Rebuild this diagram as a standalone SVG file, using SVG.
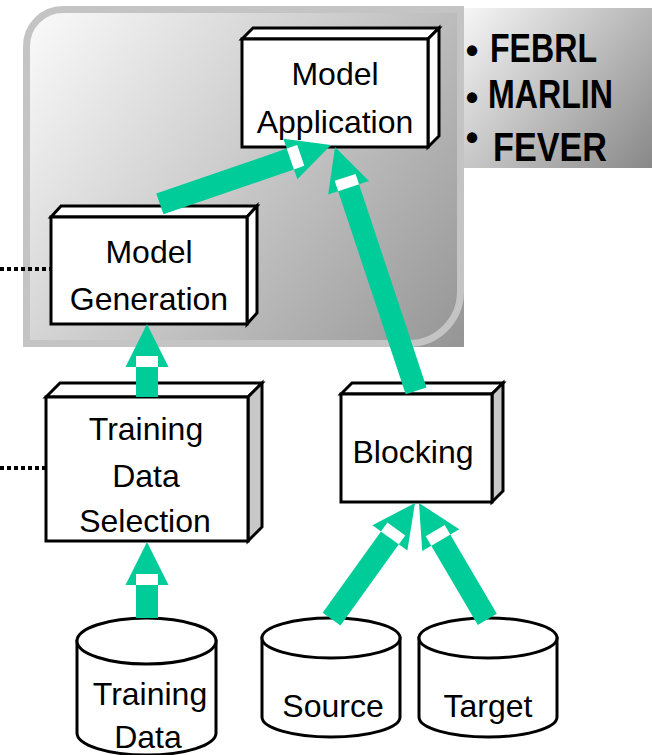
<svg xmlns="http://www.w3.org/2000/svg" width="652" height="755" viewBox="0 0 652 755">
  <defs>
    <linearGradient id="panelFill" gradientUnits="userSpaceOnUse" x1="23" y1="6" x2="464" y2="347">
      <stop offset="0" stop-color="#fcfcfc"/>
      <stop offset="1" stop-color="#959595"/>
    </linearGradient>
    <linearGradient id="toolFill" gradientUnits="userSpaceOnUse" x1="464" y1="8" x2="652" y2="168">
      <stop offset="0" stop-color="#f6f6f6"/>
      <stop offset="1" stop-color="#888888"/>
    </linearGradient>
    <style>
      .face { fill: #ffffff; stroke: #000000; stroke-width: 3; stroke-linejoin: miter; }
      .side { fill: #c8c8c8; stroke: #000000; stroke-width: 3; stroke-linejoin: miter; }
      .drum { fill: #ffffff; stroke: #000000; stroke-width: 3; }
      .label { font-family: "Liberation Sans", Arial, sans-serif; font-size: 32px; fill: #000000; text-anchor: middle; }
      .tool { font-family: "Liberation Sans", Arial, sans-serif; font-size: 40px; font-weight: bold; fill: #000000; }
      .bullet { font-family: "Liberation Sans", Arial, sans-serif; font-size: 36px; font-weight: bold; fill: #000000; text-anchor: middle; }
      .dots { stroke: #000000; stroke-width: 4; stroke-dasharray: 4 3; fill: none; }
      .flow { fill: #00cc99; }
      .gap { fill: #ffffff; }
    </style>
  </defs>

  <!-- learning area background -->
  <g id="learning-area">
    <path d="M23,46 A40,40 0 0 1 63,6 L461,6 Q464,6 464,9 L464,347 L26,347 Q23,347 23,344 Z" fill="url(#panelFill)"/>
    <path d="M26.5,46 A36.5,36.5 0 0 1 63,9.5 L460.5,9.5 L460.5,292 A52,52 0 0 1 408.5,343.5 L26.5,343.5 Z" fill="none" stroke="#c4c4c4" stroke-width="7"/>
  </g>

  <!-- tool list -->
  <g id="tools">
    <rect x="464" y="8" width="188" height="160" fill="url(#toolFill)"/>
    <text class="bullet" x="472" y="63">•</text>
    <text class="tool" x="490" y="62" textLength="107" lengthAdjust="spacingAndGlyphs">FEBRL</text>
    <text class="bullet" x="472" y="110">•</text>
    <text class="tool" x="488" y="108" textLength="125" lengthAdjust="spacingAndGlyphs">MARLIN</text>
    <text class="bullet" x="472" y="150">•</text>
    <text class="tool" x="493" y="161" textLength="114" lengthAdjust="spacingAndGlyphs">FEVER</text>
  </g>

  <!-- dotted side links -->
  <g id="side-links">
    <line class="dots" x1="0" y1="269" x2="51" y2="269"/>
    <line class="dots" x1="0" y1="468" x2="46" y2="468"/>
  </g>

  <g id="model-application">
    <polygon class="face" points="242,39 253,28 439,28 428,39"/>
    <polygon class="face" points="428,39 439,28 439,136 428,147"/>
    <rect class="face" x="242" y="39" width="186" height="108"/>
    <text class="label" x="335" y="85">Model</text>
    <text class="label" x="335" y="133">Application</text>
  </g>

  <g id="model-generation">
    <polygon class="face" points="51,217 61,206 257,206 247,217"/>
    <polygon class="face" points="247,217 257,206 257,313 247,324"/>
    <rect class="face" x="51" y="217" width="196" height="107"/>
    <text class="label" x="149" y="263">Model</text>
    <text class="label" x="149" y="310">Generation</text>
  </g>

  <g id="training-data-selection">
    <polygon class="face" points="46,397 60,383 262,383 248,397"/>
    <polygon class="side" points="248,397 262,383 262,527 248,541"/>
    <rect class="face" x="46" y="397" width="202" height="144"/>
    <text class="label" x="146" y="440">Training</text>
    <text class="label" x="146" y="487">Data</text>
    <text class="label" x="145" y="532">Selection</text>
  </g>

  <g id="blocking">
    <polygon class="face" points="341,394 352,383 503,383 492,394"/>
    <polygon class="side" points="492,394 503,383 503,491 492,502"/>
    <rect class="face" x="341" y="394" width="151" height="108"/>
    <text class="label" x="413" y="463">Blocking</text>
  </g>

  <g id="training-data">
    <path class="drum" d="M77,641 L77,733 A69.5,22 0 0 0 216,733 L216,641 Z"/>
    <ellipse class="drum" cx="146.5" cy="641" rx="69.5" ry="23"/>
    <text class="label" x="150" y="705">Training</text>
    <text class="label" x="148" y="748">Data</text>
  </g>

  <g id="source">
    <path class="drum" d="M262,638 L262,717 A69,20 0 0 0 400,717 L400,638 Z"/>
    <ellipse class="drum" cx="331" cy="638" rx="69" ry="20"/>
    <text class="label" x="333" y="717">Source</text>
  </g>

  <g id="target">
    <path class="drum" d="M419,638 L419,717 A69,20 0 0 0 557,717 L557,638 Z"/>
    <ellipse class="drum" cx="488" cy="638" rx="69" ry="20"/>
    <text class="label" x="488" y="717">Target</text>
  </g>

  <!-- block arrows: apex at the local origin, shaft running down the local y axis -->
  <g id="connectors">
    <g transform="translate(147,542)">
      <rect class="flow" x="-11" y="43" width="22" height="33"/>
      <polygon class="flow" points="0,0 21.5,43 -21.5,43"/>
      <rect class="gap" x="-11" y="32" width="22" height="11"/>
    </g>
    <g transform="translate(147,324)">
      <rect class="flow" x="-11" y="43" width="22" height="30"/>
      <polygon class="flow" points="0,0 21.5,43 -21.5,43"/>
      <rect class="gap" x="-11" y="32" width="22" height="11"/>
    </g>
    <g transform="translate(331,145) rotate(71)">
      <rect class="flow" x="-11" y="43" width="22" height="138"/>
      <polygon class="flow" points="0,0 21.5,43 -21.5,43"/>
      <rect class="gap" x="-11" y="32" width="22" height="11"/>
    </g>
    <g transform="translate(335,147) rotate(-18.4)">
      <rect class="flow" x="-11" y="43" width="22" height="214"/>
      <polygon class="flow" points="0,0 21.5,43 -21.5,43"/>
      <rect class="gap" x="-11" y="32" width="22" height="11"/>
    </g>
    <g transform="translate(415,503) rotate(35.7)">
      <rect class="flow" x="-11" y="43" width="22" height="100"/>
      <polygon class="flow" points="0,0 21.5,43 -21.5,43"/>
      <rect class="gap" x="-11" y="32" width="22" height="11"/>
    </g>
    <g transform="translate(419,503) rotate(-30.4)">
      <rect class="flow" x="-11" y="43" width="22" height="92"/>
      <polygon class="flow" points="0,0 21.5,43 -21.5,43"/>
      <rect class="gap" x="-11" y="32" width="22" height="11"/>
    </g>
  </g>
</svg>
